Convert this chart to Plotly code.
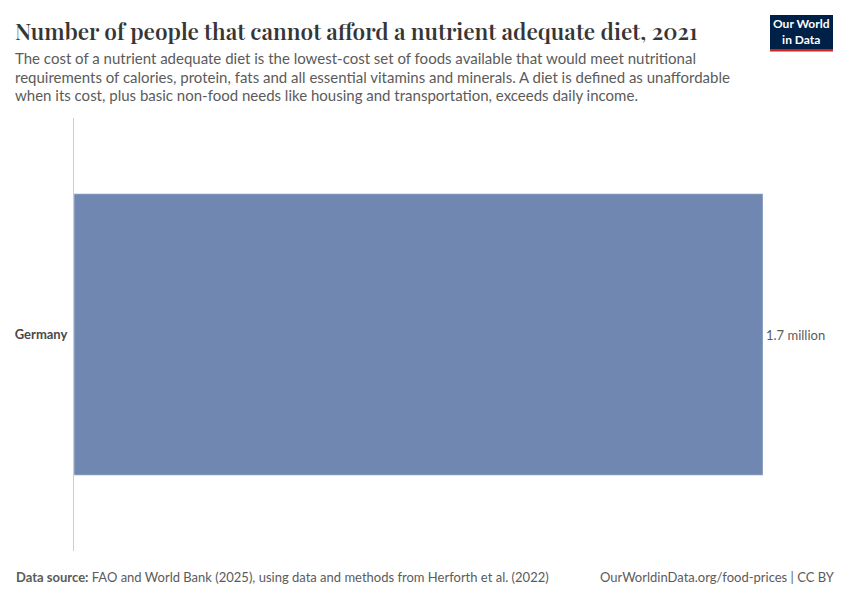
import plotly.graph_objects as go

countries = ["Germany"]
values = [1700000]
value_labels = ["1.7 million"]

title_text = "Number of people that cannot afford a nutrient adequate diet, 2021"
subtitle_lines = [
    "The cost of a nutrient adequate diet is the lowest-cost set of foods available that would meet nutritional",
    "requirements of calories, protein, fats and all essential vitamins and minerals. A diet is defined as unaffordable",
    "when its cost, plus basic non-food needs like housing and transportation, exceeds daily income.",
]

L, T = 74, 118
R_EDGE, B_EDGE = 763, 551
PW, PH = R_EDGE - L, B_EDGE - T

def px(xw):
    return (xw - L) / PW

def py(yw):
    return 1 - (yw - T) / PH

fig = go.Figure()
fig.add_trace(go.Bar(
    y=countries, x=values, orientation="h",
    marker=dict(color="#6f87b1"), width=0.65,
    text=value_labels, textposition="outside",
    textfont=dict(family="Lato", size=13, color="#5b5b5b"),
    cliponaxis=False, hoverinfo="skip",
))

fig.update_layout(
    width=850, height=600,
    margin=dict(l=L, r=850 - R_EDGE, t=T, b=600 - B_EDGE),
    paper_bgcolor="white", plot_bgcolor="white",
    showlegend=False,
    xaxis=dict(range=[0, values[0]], showgrid=False, zeroline=False,
               showticklabels=False, showline=False, fixedrange=True),
    yaxis=dict(range=[-0.5, 0.5], showgrid=False, zeroline=False,
               showline=True, linecolor="#cccccc", linewidth=1,
               ticks="", ticklabelstandoff=3,
               tickfont=dict(family="Lato", size=13, color="#4a4a4a", weight="bold"),
               fixedrange=True),
    font=dict(family="Lato"),
)

fig.add_annotation(
    text=title_text,
    xref="paper", yref="paper", x=px(13), y=py(31),
    xanchor="left", yanchor="middle", showarrow=False,
    font=dict(family="Playfair Display, DejaVu Serif, serif", size=22.6, color="#363636", weight=600),
)

for i, line in enumerate(subtitle_lines):
    fig.add_annotation(
        text=line, xref="paper", yref="paper",
        x=px(13), y=py(58 + i * 18.6),
        xanchor="left", yanchor="middle", align="left", showarrow=False,
        font=dict(family="Lato", size=15, color="#5b5b5b"),
    )

fig.add_annotation(
    text="<b>Data source:</b> FAO and World Bank (2025), using data and methods from Herforth et al. (2022)",
    xref="paper", yref="paper", x=px(14), y=py(577),
    xanchor="left", yanchor="middle", showarrow=False,
    font=dict(family="Lato", size=13, color="#5b5b5b"),
)
fig.add_annotation(
    text="OurWorldinData.org/food-prices | CC BY",
    xref="paper", yref="paper", x=px(837), y=py(577),
    xanchor="right", yanchor="middle", showarrow=False,
    font=dict(family="Lato", size=13, color="#5b5b5b"),
)

# logo
fig.add_shape(type="rect", xref="paper", yref="paper",
              x0=px(770), x1=px(833), y0=py(49), y1=py(15),
              fillcolor="#002147", line=dict(width=0), layer="above")
fig.add_shape(type="rect", xref="paper", yref="paper",
              x0=px(770), x1=px(833), y0=py(51.5), y1=py(49),
              fillcolor="#ce261e", line=dict(width=0), layer="above")
fig.add_annotation(
    text="Our World<br>in Data", xref="paper", yref="paper",
    x=px(801.5), y=py(32),
    xanchor="center", yanchor="middle", showarrow=False,
    font=dict(family="Lato", size=12, color="white", weight="bold"),
    align="center",
)

fig.write_html("out.html", config={"displayModeBar": False},
               post_script="document.body.style.margin='0';document.body.style.padding='0';")
